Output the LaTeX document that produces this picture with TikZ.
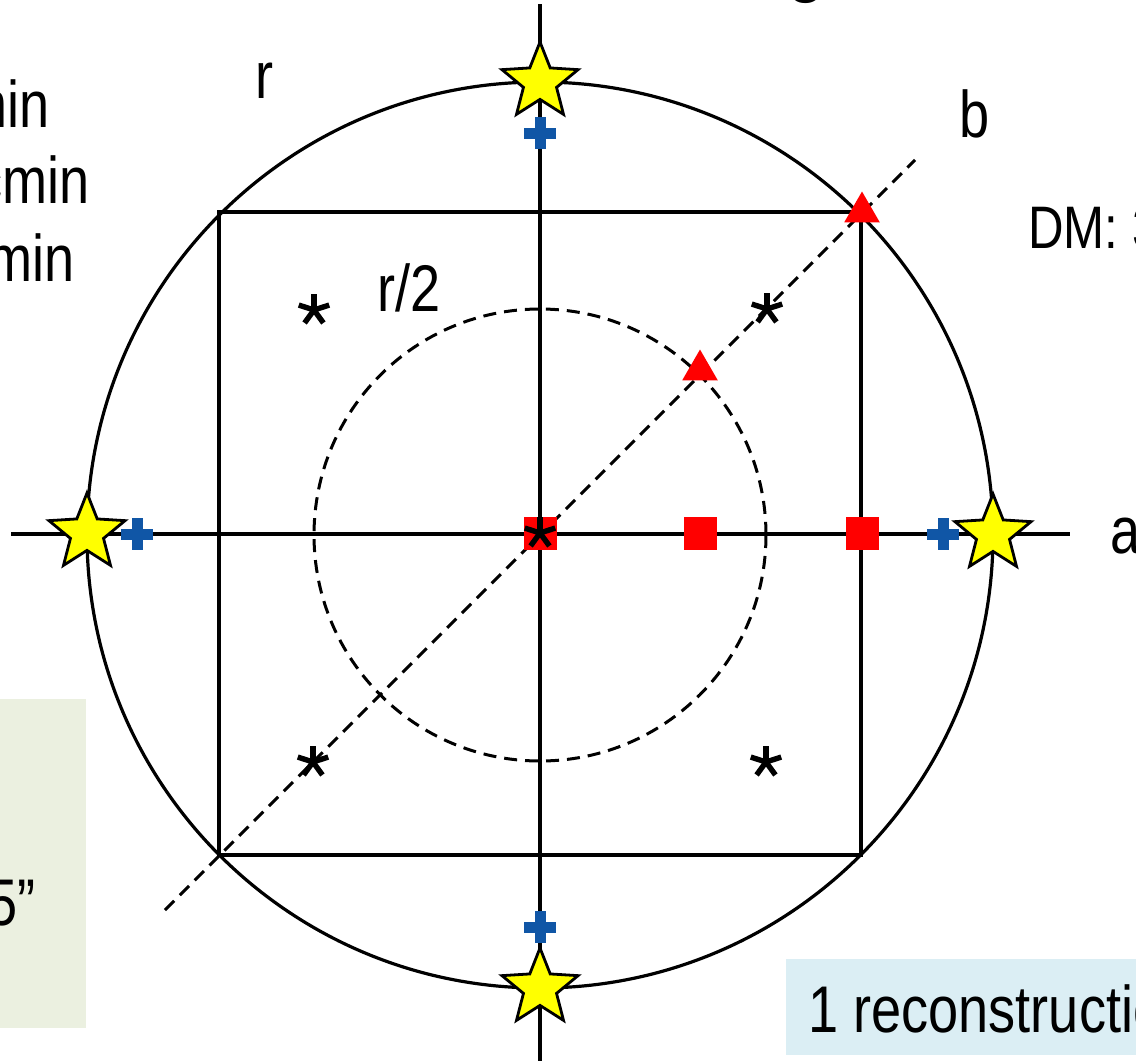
\documentclass[tikz,border=0pt]{standalone}
\usepackage{fontspec}
\setmainfont[FakeStretch=0.82]{Liberation Sans}
\usetikzlibrary{shapes.geometric}
\definecolor{starY}{RGB}{255,255,0}
\definecolor{mkred}{RGB}{255,0,0}
\definecolor{plusblue}{RGB}{16,86,166}
\definecolor{greenbox}{RGB}{235,240,224}
\definecolor{bluebox}{RGB}{219,238,244}
\begin{document}
\begin{tikzpicture}[x=0.5pt,y=-0.5pt,
  solidline/.style={line width=1.6pt,black},
  dashline/.style={line width=1.5pt,black,dash pattern=on 6.5pt off 4pt},
  lbl/.style={inner sep=0pt,font=\fontsize{33pt}{40pt}\selectfont},
  dmlbl/.style={inner sep=0pt,font=\fontsize{30pt}{36pt}\selectfont},
  starmark/.style={star,star points=5,star point ratio=2.3,minimum size=40pt,inner sep=0pt,
    fill=starY,draw=black,line width=1.4pt},
  sqmark/.style={rectangle,minimum size=16.5pt,inner sep=0pt,fill=mkred},
  trimark/.style={regular polygon,regular polygon sides=3,minimum size=20.5pt,inner sep=0pt,fill=mkred},
  plusmark/.style={minimum size=17pt,inner sep=0pt,
    path picture={\fill[plusblue] (path picture bounding box.center) ++(-8pt,-2.75pt) rectangle ++(16pt,5.5pt);
      \fill[plusblue] (path picture bounding box.center) ++(-2.75pt,-8pt) rectangle ++(5.5pt,16pt);}},
  astmark/.style={minimum size=19pt,inner sep=0pt,
    path picture={\foreach \ang in {90,18,-54,-126,162}
      {\draw[line width=2.7pt,black] (path picture bounding box.center) -- ++(\ang:8pt);}}}
]
\useasboundingbox (0,0) rectangle (1136,1061);
\clip (0,0) rectangle (1136,1061);

% background boxes
\node[fill=greenbox,inner sep=0pt,minimum width=43pt,minimum height=164.5pt,anchor=north west] (gbox) at (0,699) {};
\node[fill=bluebox,inner sep=0pt,minimum width=175pt,minimum height=48pt,anchor=north west] (bbox) at (786,959) {};

% key coordinates
\coordinate (O) at (540,535);
\coordinate (axL) at (11,534);
\coordinate (axR) at (1070,534);
\coordinate (axT) at (540,4);
\coordinate (axB) at (540,1061);
\coordinate (dgL) at (165,910);
\coordinate (dgR) at (915,160);
\coordinate (sqNW) at (219,212);
\coordinate (sqSE) at (861,855);

% circles and square
\draw[solidline] (O) circle[radius=453];
\draw[dashline] (O) circle[radius=226];
\draw[solidline] (sqNW) rectangle (sqSE);
% axes
\draw[solidline] (axL) -- (axR);
\draw[solidline] (axT) -- (axB);
\draw[dashline] (dgL) -- (dgR);

% title fragment
\node[inner sep=0pt,anchor=base,font=\fontsize{46pt}{56pt}\selectfont] (ttl) at (806,-16) {g};

% labels
\node[lbl,anchor=base] (lr) at (265,98) {r};
\node[lbl,anchor=base] (lb) at (975,137) {b};
\node[lbl,anchor=base west] (lr2) at (377,311) {r/2};
\node[lbl,anchor=base west] (la) at (1110,553) {a};
\node[dmlbl,anchor=base west] (ldm) at (1028,248) {DM: 3};
\node[lbl,anchor=base east] (t1) at (50,127) {min};
\node[lbl,anchor=base east] (t2) at (90,203) {cmin};
\node[lbl,anchor=base east] (t3) at (75,281) {min};
\node[lbl,anchor=base east] (t5) at (36,925) {5”};
\node[lbl,anchor=base west] (trec) at (808,1032) {1 reconstructio};

% markers
\node[sqmark] (s1) at (540,533) {};
\node[sqmark] (s2) at (700,533) {};
\node[sqmark] (s3) at (862,533) {};
\node[trimark] (tr1) at (700,370) {};
\node[trimark] (tr2) at (862,212) {};
\node[astmark] (a0) at (540,533) {};
\node[astmark] (a1) at (314,310) {};
\node[astmark] (a2) at (767,309) {};
\node[astmark] (a3) at (313,762) {};
\node[astmark] (a4) at (766,762) {};
\node[plusmark] (p1) at (540,133) {};
\node[plusmark] (p2) at (540,927) {};
\node[plusmark] (p3) at (137,534) {};
\node[plusmark] (p4) at (943,534) {};
\node[starmark] (st1) at (540,82) {};
\node[starmark] (st2) at (540,988) {};
\node[starmark] (st3) at (87,533) {};
\node[starmark] (st4) at (993,534) {};
\end{tikzpicture}
\end{document}
